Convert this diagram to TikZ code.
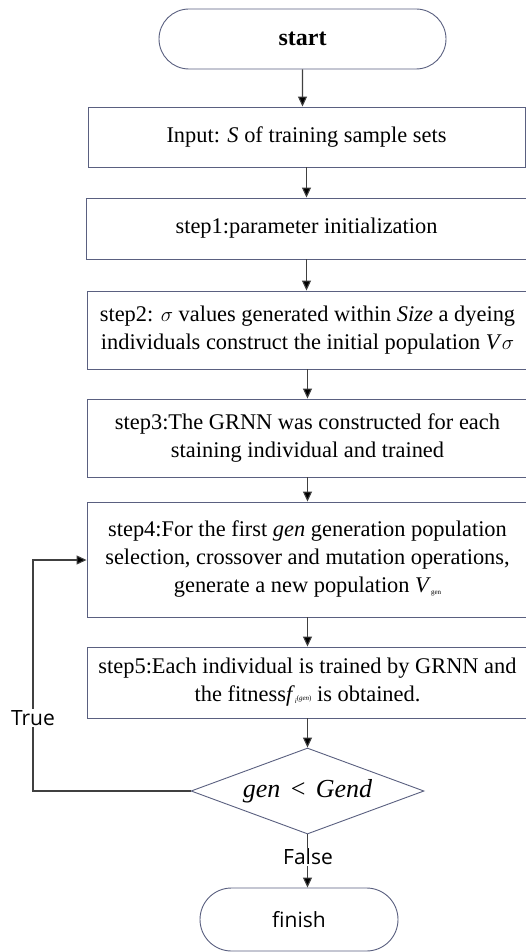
\documentclass[tikz,border=0pt]{standalone}
\usepackage{fontspec}
\setmainfont{Liberation Serif}
\newfontfamily\labfont{Open Sans}
\usetikzlibrary{shapes.geometric,shapes.misc,arrows.meta}
\definecolor{boxline}{HTML}{5A6080}
\definecolor{conn}{HTML}{404040}
\tikzset{
  stepbox/.style={draw=boxline, line width=0.9pt, rectangle, align=center, inner sep=0pt, font=\fontsize{22.4}{28}\selectfont},
  term/.style={draw=boxline, line width=0.9pt, rounded rectangle, inner sep=0pt},
  decide/.style={draw=boxline, line width=0.9pt, diamond, inner sep=0pt},
  conn/.style={draw=conn, line width=1.1pt, -{Triangle[width=9pt,length=10pt,fill=black]}},
  lab/.style={font=\labfont\fontsize{21}{24}\selectfont, fill=white, inner sep=1pt}
}
\begin{document}
\begin{tikzpicture}[x=1pt,y=-1pt]
\useasboundingbox[fill=white] (0,0) rectangle (526,952);
\node[term, minimum width=287pt, minimum height=60pt, font=\bfseries\fontsize{24}{28}\selectfont] (start) at (302.5,39) {start};
\node[stepbox, minimum width=437pt, minimum height=60pt] (input) at (306.5,137) {Input: \textit{S} of training sample sets};
\node[stepbox, minimum width=441pt, minimum height=61pt] (s1) at (306.5,228.5) {step1:parameter initialization};
\node[stepbox, minimum width=441pt, minimum height=78pt] (s2) at (307.5,330) {step2: $\sigma$ values generated within \textit{Size} a dyeing\\individuals construct the initial population \textit{V}$\sigma$};
\node[stepbox, minimum width=441pt, minimum height=78pt] (s3) at (307.5,438) {step3:The GRNN was constructed for each\\staining individual and trained};
\node[stepbox, minimum width=441pt, minimum height=115pt] (s4) at (307.5,559.5) {step4:For the first \textit{gen} generation population\\selection, crossover and mutation operations,\\generate a new population \textit{V}\raisebox{-2pt}{\fontsize{7}{8}\selectfont gen}};
\node[stepbox, minimum width=441pt, minimum height=71pt] (s5) at (307.5,682.5) {step5:Each individual is trained by GRNN and\\the fitness\textit{f}\raisebox{-2pt}{\fontsize{7}{8}\selectfont\textit{i}}\raisebox{1pt}{\fontsize{7}{8}\selectfont(\textit{gen})} is obtained.};
\node[decide, minimum width=233pt, minimum height=86pt, aspect=2.7] (d) at (307.5,791) {};
\node[font=\itshape\fontsize{26}{30}\selectfont] (dt) at (d) {gen\hspace{0.4em}\textup{<}\hspace{0.4em}Gend};
\node[term, minimum width=198pt, minimum height=63pt, font=\labfont\fontsize{21}{24}\selectfont] (fin) at (299,919.5) {finish};
\coordinate (lb) at (33,791);
\coordinate (lt) at (33,560);
\draw[conn] (start) -- (start |- input.north);
\draw[conn] (input) -- (input |- s1.north);
\draw[conn] (s1) -- (s1 |- s2.north);
\draw[conn] (s2) -- (s2 |- s3.north);
\draw[conn] (s3) -- (s3 |- s4.north);
\draw[conn] (s4) -- (s4 |- s5.north);
\draw[conn] (s5) -- (d.north);
\draw[conn] (d.south) -- (d.south |- fin.north);
\draw[conn] (d.west) -- (lb) -- (lt) -- (lt -| s4.west);
\node[lab] (tl) at (33,718) {True};
\node[lab] (fl) at (308,857) {False};
\end{tikzpicture}
\end{document}
